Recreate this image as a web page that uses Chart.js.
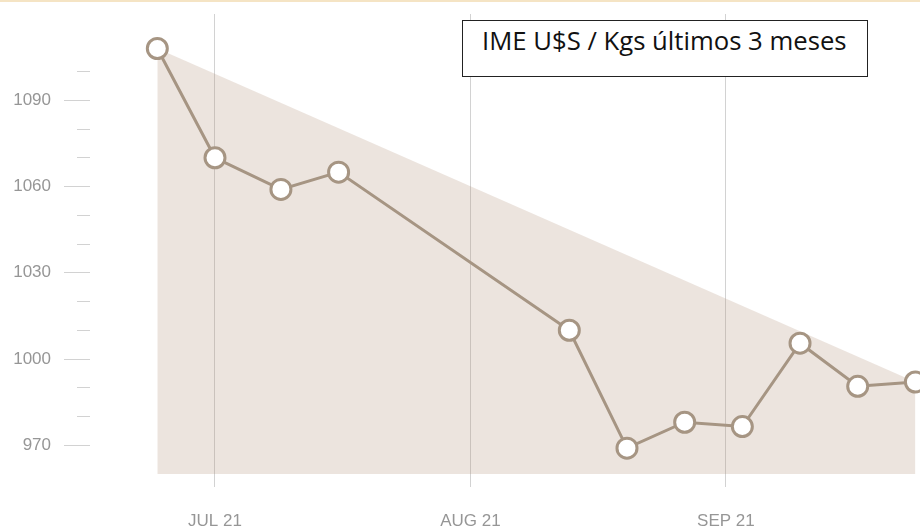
<!DOCTYPE html>
<html>
<head>
<meta charset="utf-8">
<script src="https://cdn.jsdelivr.net/npm/chart.js@4/dist/chart.umd.min.js"></script>
<style>
  html, body { margin: 0; padding: 0; background: #fff; }
  #wrap { position: relative; width: 920px; height: 528px; overflow: hidden; }
  #topline { position: absolute; left: 0; top: 0; width: 920px; height: 2px; background: #f5e4c4; }
  #title {
    position: absolute; left: 462px; top: 20px; width: 385px; height: 55px;
    padding-left: 19px; border: 1px solid #222; background: #fff; box-sizing: content-box;
    font-family: "Open Sans", sans-serif; font-size: 25.7px; color: #111;
    line-height: 39px; text-align: left; white-space: nowrap;
  }
</style>
</head>
<body>
<div id="wrap">
  <canvas id="imeChart"></canvas>
  <div id="topline"></div>
  <div id="title">IME U$S / Kgs últimos 3 meses</div>
</div>
<script>
// weekly IME quotes, last 3 months
var dates = ['2021-06-24', '2021-07-01', '2021-07-09', '2021-07-16', '2021-08-13', '2021-08-20',
             '2021-08-27', '2021-09-03', '2021-09-10', '2021-09-17', '2021-09-24'];
var values = [1108, 1070, 1059, 1065, 1010, 969, 978, 976.5, 1005.5, 990.5, 992];

var monthTicks = ['2021-07-01', '2021-08-01', '2021-09-01'];
var monthLabels = ['JUL 21', 'AUG 21', 'SEP 21'];

var yTicks = [970, 980, 990, 1000, 1010, 1020, 1030, 1040, 1050, 1060, 1070, 1080, 1090, 1100];
var yLabelTicks = [970, 1000, 1030, 1060, 1090];

var dayOf = d => (Date.parse(d) - Date.parse('2021-07-01')) / 864e5;

var points = dates.map((d, i) => ({ x: dayOf(d), y: values[i] }));
// shaded band: straight from first quote to last quote
var band = [points[0], points[points.length - 1]];

var lineColor = '#a69583';
var tickGray = '#d2d2d2';
var labelGray = '#969696';

var noPadding = scale => {
    scale.paddingTop = 0;
    scale.paddingBottom = 0;
    scale.paddingLeft = 0;
    scale.paddingRight = 0;
};

new Chart('imeChart', {
    type: 'line',
    data: {
        datasets: [{
            data: points,
            borderColor: lineColor,
            borderWidth: 3,
            pointRadius: 10,
            pointBorderWidth: 3,
            pointBorderColor: lineColor,
            pointBackgroundColor: '#fff',
            tension: 0,
            fill: false,
            clip: false
        }, {
            data: band,
            borderWidth: 0,
            pointRadius: 0,
            backgroundColor: 'rgba(178, 148, 122, 0.25)',
            fill: 'start'
        }]
    },
    options: {
        responsive: true,
        maintainAspectRatio: false,
        animation: false,
        layout: { autoPadding: false, padding: { top: 14, right: 0, bottom: 0, left: 0 } },
        plugins: { legend: { display: false }, tooltip: { enabled: false } },
        scales: {
            x: {
                type: 'linear',
                min: -15.17,
                max: 85.56,
                afterBuildTicks: scale => {
                    scale.ticks = monthTicks.map(m => ({ value: dayOf(m) }));
                },
                afterFit: scale => { scale.height = 54; noPadding(scale); },
                border: { display: false },
                grid: { color: tickGray, tickColor: tickGray, tickLength: 13, lineWidth: 1 },
                ticks: {
                    autoSkip: false,
                    maxRotation: 0,
                    padding: 24,
                    color: labelGray,
                    font: { family: 'Liberation Sans', size: 17 },
                    callback: (v, i) => monthLabels[i]
                }
            },
            y: {
                min: 960,
                max: 1120,
                afterBuildTicks: scale => {
                    scale.ticks = yTicks.map(v => ({ value: v }));
                },
                afterFit: scale => { scale.width = 90; noPadding(scale); },
                border: { display: false },
                grid: {
                    drawOnChartArea: false,
                    tickLength: 26,
                    tickColor: tickGray,
                    tickBorderDash: ctx => yLabelTicks.includes(ctx.tick.value) ? [] : [0, 13, 13, 0]
                },
                ticks: {
                    padding: 13,
                    color: labelGray,
                    font: { family: 'Liberation Sans', size: 17 },
                    callback: v => yLabelTicks.includes(v) ? String(v) : ''
                }
            }
        }
    }
});
</script>
</body>
</html>
